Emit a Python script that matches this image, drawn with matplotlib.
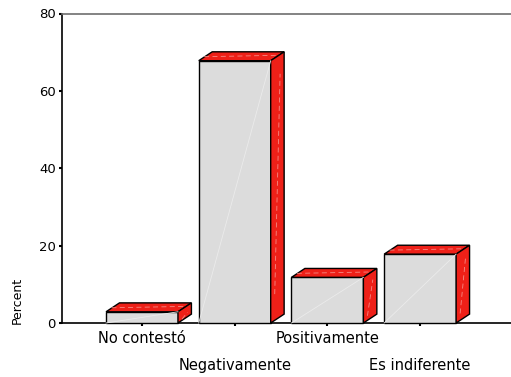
import matplotlib
matplotlib.use("Agg")
import matplotlib.pyplot as plt
from matplotlib.patches import Polygon

# data
categories = ["No contestó", "Negativamente", "Positivamente", "Es indiferente"]
percent = [2.9, 67.8, 11.8, 17.8]
yticks = [0, 20, 40, 60, 80]

front_color = "#dcdcdc"
red = "#ee2018"

fig = plt.figure(figsize=(5.11, 3.77), dpi=100)
ax = fig.add_axes([62 / 511, 1 - 323 / 377, 1 - 62 / 511, (323 - 13.5) / 377])
ax.set_xlim(-0.863, 3.98)
ax.set_ylim(0, 80)

w = 0.776   # bar width in category units
dx = 0.145  # depth offset, x
dy = 2.3    # depth offset, y

for i, v in enumerate(percent):
    x0, x1 = i - w / 2, i + w / 2
    front = [(x0, 0), (x1, 0), (x1, v), (x0, v)]
    top = [(x0, v), (x1, v), (x1 + dx, v + dy), (x0 + dx, v + dy)]
    side = [(x1, 0), (x1 + dx, dy), (x1 + dx, v + dy), (x1, v)]
    ax.add_patch(Polygon(front, closed=True, facecolor=front_color,
                         edgecolor="black", lw=1, clip_on=False, zorder=3))
    ax.add_patch(Polygon(top, closed=True, facecolor=red,
                         edgecolor="black", lw=1, clip_on=False, zorder=3))
    ax.add_patch(Polygon(side, closed=True, facecolor=red,
                         edgecolor="black", lw=1, clip_on=False, zorder=3))
    # faint highlight streaks
    ax.plot([x0, x1], [0, v], color="#ebebeb", lw=0.6, zorder=4, clip_on=False)
    ax.plot([x1 + 0.3 * dx, x1 + 0.7 * dx], [0.3 * dy + 0.1 * v, v - 0.05 * v],
            color="#f48a84", lw=0.6, ls=(0, (6, 4)), zorder=4, clip_on=False)
    ax.plot([x0 + 0.4 * dx, x1 + 0.4 * dx], [v + 0.45 * dy, v + 0.6 * dy],
            color="#f48a84", lw=0.6, ls=(0, (6, 4)), zorder=4, clip_on=False)

ax.set_xticks(range(len(categories)))
ax.set_xticklabels(categories, fontsize=10.5)
ax.set_yticks(yticks)
ax.set_yticklabels([str(t) for t in yticks], fontsize=9.5)
ax.tick_params(axis="both", direction="out", length=2.5, width=1.5, color="black")
for i, t in enumerate(ax.xaxis.get_major_ticks()):
    t.set_pad(3 if i % 2 == 0 else 23)
ax.tick_params(axis="y", pad=2)

for s in ["left", "bottom"]:
    ax.spines[s].set_color("black")
    ax.spines[s].set_linewidth(1.2)
ax.spines["top"].set_color("#6e6e6e")
ax.spines["top"].set_linewidth(1.2)
ax.spines["right"].set_visible(False)

fig.text(17 / 511, 1 - 300 / 377, "Percent", rotation=90, ha="center",
         va="center", fontsize=9)

fig.savefig("out.png", dpi=100)
